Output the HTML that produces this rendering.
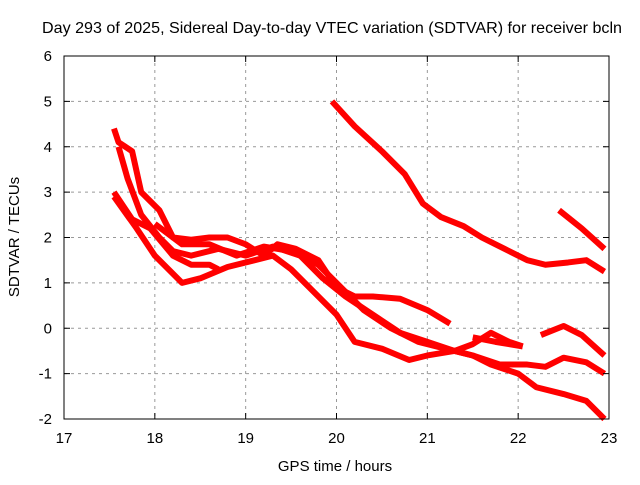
<!DOCTYPE html>
<html><head><meta charset="utf-8"><style>
body{margin:0;background:#fff}
text{font-family:"Liberation Sans",sans-serif;font-size:14px;fill:#000}
</style></head><body>
<svg id="chart" width="640" height="480" xmlns="http://www.w3.org/2000/svg">
<rect width="640" height="480" fill="#fff"/>
<text x="332" y="33" text-anchor="middle" style="font-size:16px" textLength="580" lengthAdjust="spacingAndGlyphs">Day 293 of 2025, Sidereal Day-to-day VTEC variation (SDTVAR) for receiver bcln</text>
<text x="335" y="471" text-anchor="middle" style="font-size:15px">GPS time / hours</text>
<text transform="translate(19,237) rotate(-90)" text-anchor="middle" style="font-size:15px">SDTVAR / TECUs</text>
<g id="grid"></g><g id="series"></g><g id="axes"></g>
</svg>
<script>
const xTicks=[17,18,19,20,21,22,23];
const yTicks=[-2,-1,0,1,2,3,4,5,6];
const s1T=[19.95,20.2,20.5,20.75,20.95,21.15,21.4,21.6,21.85,22.1,22.3,22.55,22.75,22.95];
const s1V=[5.0,4.45,3.9,3.4,2.75,2.45,2.25,2.0,1.75,1.5,1.4,1.45,1.5,1.25];
const s2T=[22.45,22.7,22.95];
const s2V=[2.6,2.2,1.75];
const s3T=[17.55,17.6,17.75,17.85,18.05,18.2,18.4,18.6,18.8,19.0,19.2,19.35,19.55,19.8,20.0,20.2,20.4,20.7,21.0,21.25];
const s3V=[4.4,4.1,3.9,3.0,2.6,2.0,1.95,2.0,2.0,1.85,1.6,1.85,1.75,1.5,0.9,0.7,0.7,0.65,0.4,0.1];
const s4T=[17.6,17.7,17.85,18.05,18.2,18.4,18.7,19.0,19.3,19.6,19.85,20.1,20.4,20.7,21.0,21.3,21.5,21.7,22.0,22.2,22.5,22.75,22.95];
const s4V=[4.0,3.3,2.5,2.0,1.7,1.6,1.75,1.6,1.8,1.6,1.1,0.7,0.3,-0.1,-0.3,-0.5,-0.6,-0.8,-1.0,-1.3,-1.45,-1.6,-2.0];
const s5T=[17.55,17.75,17.95,18.2,18.4,18.6,18.7];
const s5V=[3.0,2.4,2.2,1.6,1.4,1.4,1.3];
const s6T=[17.55,17.8,18.0,18.3,18.5,18.8,19.1,19.3,19.5,19.7,20.0,20.2,20.5,20.8,21.0,21.3,21.5,21.7,21.9,22.05];
const s6V=[2.9,2.2,1.6,1.0,1.1,1.35,1.5,1.6,1.3,0.9,0.3,-0.3,-0.45,-0.7,-0.6,-0.5,-0.35,-0.1,-0.3,-0.4];
const s7T=[18.0,18.3,18.6,18.9,19.2,19.5,19.8,20.0,20.3,20.6,20.9,21.2,21.5,21.8,22.1,22.3,22.5,22.75,22.95];
const s7V=[2.3,1.85,1.85,1.6,1.8,1.7,1.4,1.0,0.4,0.0,-0.3,-0.45,-0.6,-0.8,-0.8,-0.85,-0.65,-0.75,-1.0];
const s8T=[21.5,21.75,22.05];
const s8V=[-0.2,-0.3,-0.4];
const s9T=[22.25,22.5,22.7,22.95];
const s9V=[-0.15,0.05,-0.15,-0.6];
const seriesList=[[s1T,s1V],[s2T,s2V],[s3T,s3V],[s4T,s4V],[s5T,s5V],[s6T,s6V],[s7T,s7V],[s8T,s8V],[s9T,s9V]];
const L=64,R=609,T=56,B=419;
const xs=v=>L+(v-17)/6*(R-L);
const ys=v=>B-(v+2)/8*(B-T);
const NS="http://www.w3.org/2000/svg";
function mk(tag,attrs,parent){const e=document.createElementNS(NS,tag);for(const k in attrs)e.setAttribute(k,attrs[k]);parent.appendChild(e);return e;}
const grid=document.getElementById('grid'),axes=document.getElementById('axes'),ser=document.getElementById('series');
xTicks.forEach(t=>{const x=xs(t);
 if(t>17&&t<23){const g=mk('line',{x1:x,x2:x,y1:T,y2:B,stroke:'#999','stroke-dasharray':'3,4'},grid);
 
 }
 mk('line',{x1:x,x2:x,y1:B,y2:B-6,stroke:'#000'},axes);
 mk('line',{x1:x,x2:x,y1:T,y2:T+6,stroke:'#000'},axes);
 const tx=mk('text',{x:x,y:B+24,'text-anchor':'middle',style:'font-size:15px'},axes);tx.textContent=t;
 
 
});
yTicks.forEach(t=>{const y=ys(t);
 if(t>-2&&t<6){const g=mk('line',{x1:L,x2:R,y1:y,y2:y,stroke:'#999','stroke-dasharray':'3,4'},grid);
 
 }
 mk('line',{x1:L,x2:L+6,y1:y,y2:y,stroke:'#000'},axes);
 mk('line',{x1:R,x2:R-6,y1:y,y2:y,stroke:'#000'},axes);
 const tx=mk('text',{x:L-12,y:y+5,'text-anchor':'end',style:'font-size:15px'},axes);tx.textContent=t;
 
 
});
const fr=mk('rect',{x:L,y:T,width:R-L,height:B-T,fill:'none',stroke:'#000'},axes);


seriesList.forEach((s,i)=>{
 const pts=s[0].map((t,j)=>xs(t)+','+ys(s[1][j])).join(' ');
 const p=mk('polyline',{points:pts,fill:'none',stroke:'#f00','stroke-width':6,'stroke-linejoin':'round','stroke-linecap':'butt'},ser);
 
 
});
</script>
</body></html>
